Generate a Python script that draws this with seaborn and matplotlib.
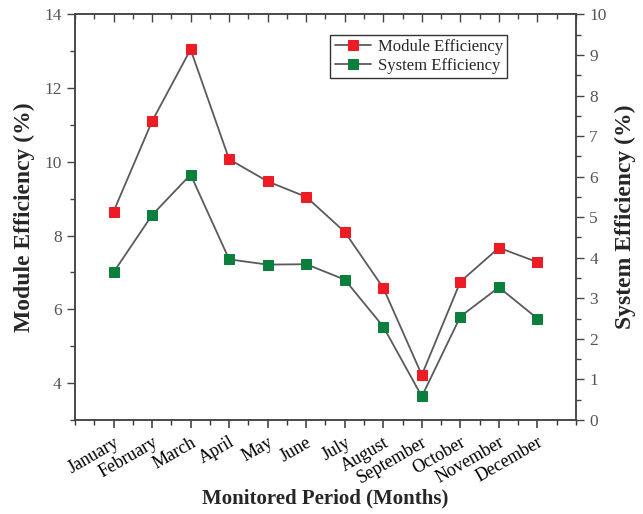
import matplotlib
matplotlib.use("Agg")
import matplotlib.pyplot as plt
import seaborn as sns
import numpy as np
import pandas as pd
from matplotlib.ticker import MultipleLocator

months = ["January", "February", "March", "April", "May", "June", "July",
          "August", "September", "October", "November", "December"]
module_eff = [8.65, 11.1, 13.05, 10.07, 9.47, 9.05, 8.1, 6.58, 4.22, 6.75, 7.67, 7.28]
system_eff = [3.64, 5.05, 6.05, 3.96, 3.83, 3.84, 3.46, 2.3, 0.58, 2.55, 3.27, 2.5]

sns.set_style("ticks")
plt.rcParams['font.family'] = ['Liberation Serif', 'DejaVu Serif']
plt.rcParams['mathtext.fontset'] = 'stix'

red = "#ED1C24"
green = "#0B7F3B"
linec = "#5a5a5a"

df = pd.DataFrame({"pos": np.arange(1, 13), "module": module_eff, "system": system_eff})

fig = plt.figure(figsize=(6.43, 5.14), dpi=100)
ax = fig.add_axes([0.1166, 0.183, 0.7792, 0.789])
ax2 = ax.twinx()

sns.lineplot(data=df, x="pos", y="module", ax=ax, color=linec, lw=1.3,
             marker="s", markersize=6.8, markerfacecolor=red, markeredgecolor=red,
             label="Module Efficiency", legend=False)
sns.lineplot(data=df, x="pos", y="system", ax=ax2, color=linec, lw=1.3,
             marker="s", markersize=6.8, markerfacecolor=green, markeredgecolor=green,
             label="System Efficiency", legend=False)

ax.set_xlim(0, 13)
ax.set_ylim(3, 14)
ax2.set_ylim(0, 10)

ax.set_xticks(np.arange(1, 13))
ax.set_xticklabels(months, rotation=30, ha="right", rotation_mode="anchor", fontsize=13)
ax.xaxis.set_minor_locator(MultipleLocator(0.5))
ax.yaxis.set_major_locator(MultipleLocator(2))
ax.yaxis.set_minor_locator(MultipleLocator(1))
ax2.yaxis.set_major_locator(MultipleLocator(1))
ax2.yaxis.set_minor_locator(MultipleLocator(0.5))

tickc = "#555555"
ax.tick_params(axis="x", which="major", direction="out", length=6, width=1.1, top=True,
               labelcolor="black", color="#333333", pad=4)
ax.tick_params(axis="x", which="minor", direction="out", length=3.5, width=1.0, top=True, color="#333333")
ax.tick_params(axis="y", which="major", direction="out", length=6, width=1.0, labelsize=12.5,
               labelcolor=tickc, color="#444444")
ax.tick_params(axis="y", which="minor", direction="out", length=3.5, width=1.0, color="#444444")
ax2.tick_params(axis="y", which="major", direction="out", length=6, width=1.0, labelsize=12.5,
                labelcolor=tickc, color="#444444")
ax2.tick_params(axis="y", which="minor", direction="out", length=3.5, width=1.0, color="#444444")

# top ticks point inward
secx = ax.secondary_xaxis("top")
secx.set_xticks(np.arange(1, 13))
secx.xaxis.set_minor_locator(MultipleLocator(0.5))
secx.tick_params(axis="x", which="major", direction="in", length=6, width=1.0, labeltop=False, color="#444444")
secx.tick_params(axis="x", which="minor", direction="in", length=3.5, width=1.0, color="#444444")
secx.spines["top"].set_visible(False)
ax.tick_params(axis="x", which="both", top=False)

for a in (ax, ax2):
    for s in a.spines.values():
        s.set_color("#444444")
        s.set_linewidth(1.1)
        s.set_visible(True)

ax.set_xlabel("Monitored Period (Months)", fontsize=15, fontweight="bold")
ax.xaxis.set_label_coords(0.5, -0.168)
ax.set_ylabel("Module Efficiency (%)", fontsize=17, fontweight="bold")
ax.yaxis.set_label_coords(-0.08, 0.5)
ax2.set_ylabel("System Efficiency (%)", fontsize=17, fontweight="bold", labelpad=6)

h1, l1 = ax.get_legend_handles_labels()
h2, l2 = ax2.get_legend_handles_labels()
leg = ax2.legend(h1 + h2, l1 + l2, loc="upper left", bbox_to_anchor=(0.51, 0.95),
                 fontsize=12, frameon=True, fancybox=False, edgecolor="black",
                 handlelength=2.2, handletextpad=0.4, borderpad=0.25, labelspacing=0.2,
                 borderaxespad=0)
leg.get_frame().set_linewidth(1.0)

fig.savefig("out.png", dpi=100)
